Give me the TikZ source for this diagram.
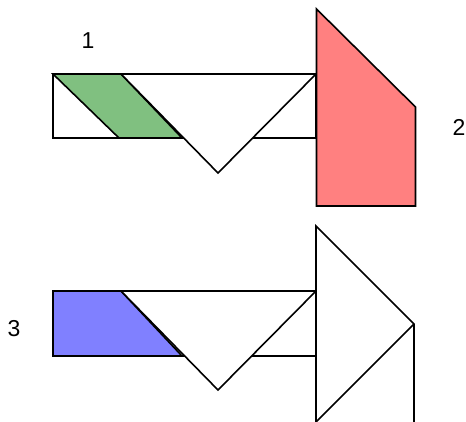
\documentclass[tikz,border=0pt]{standalone}
\usepackage{fontspec}
\setmainfont{Liberation Sans}
\definecolor{pgreen}{RGB}{128,192,128}
\definecolor{pred}{RGB}{255,128,128}
\definecolor{pblue}{RGB}{128,128,255}
\begin{document}
\begin{tikzpicture}[x=1pt,y=-1pt,
  edge/.style={draw=black,line width=1.6pt,line join=miter},
  lbl/.style={font=\fontsize{23}{27}\selectfont,inner sep=0pt}]
\useasboundingbox (0,0) rectangle (466,421);
\clip (0,0) rectangle (466,421);
\fill[white] (0,0) rectangle (466,421);
% ---- top figure ----
\path[edge,fill=white] (53,74) rectangle (316,138);
\path[edge,fill=pgreen] (53,74) -- (121,74) -- (182,138) -- (119,138) -- cycle;
\path[edge,fill=white] (121,74) -- (316,74) -- (218,173) -- cycle;
\draw[edge] (53,74) -- (316,74);
\path[edge,fill=pred] (316.5,9) -- (415.5,107) -- (415.5,206) -- (316.5,206) -- cycle;
\node[lbl] (n1) at (88,41) {1};
\node[lbl] (n2) at (459,127) {2};
% ---- bottom figure ----
\path[edge,fill=white] (53,291) rectangle (316,356);
\path[edge,fill=pblue] (53,291) -- (121,291) -- (182,356) -- (53,356) -- cycle;
\path[edge,fill=white] (121,291) -- (316,291) -- (218,390) -- cycle;
\path[edge,fill=white] (316,226) -- (414,324) -- (414,440) -- (316,440) -- cycle;
\draw[edge] (414,324) -- (316,422);
\node[lbl] (n3) at (14,329) {3};
\end{tikzpicture}
\end{document}
